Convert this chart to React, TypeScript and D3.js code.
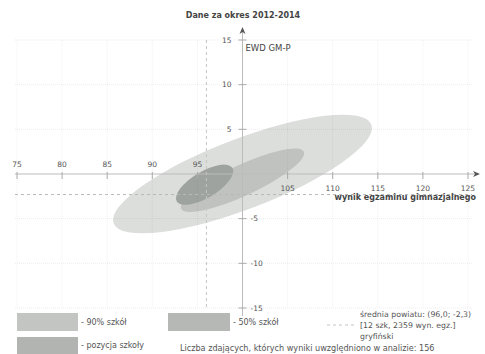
import React from 'react';
import * as d3 from 'd3';

const W = 485;
const H = 354;

const xTickValues = [75, 80, 85, 90, 95, 100, 105, 110, 115, 120, 125];
const yTickValues = [-15, -10, -5, 0, 5, 10, 15];

const ellipseLabels = ['90% szkół', '50% szkół', 'pozycja szkoły'];
const ellipseCx = [100.0, 100.0, 95.8];
const ellipseCy = [0.0, -0.7, -1.2];
const ellipseSemiMajor = [15.3, 7.5, 3.6];
const ellipseSemiMinor = [3.9, 1.7, 1.45];
const ellipseAngle = [21, 25, 31];

const meanX = 96.0;
const meanY = -2.3;

const subtitle = 'Dane za okres 2012-2014';
const xLabel = 'wynik egzaminu gimnazjalnego';
const yLabel = 'EWD GM-P';
const meanLines = ['średnia powiatu: (96,0; -2,3)', '[12 szk, 2359 wyn. egz.]', 'gryfiński'];
const countText = 'Liczba zdających, których wyniki uwzględniono w analizie: 156';

const FONT = 'DejaVu Sans, sans-serif';
const TXT = '#555';

export default function App() {
  const x = d3.scaleLinear().domain([75, 125]).range([17, 468]);
  const y = d3.scaleLinear().domain([-15, 15]).range([308, 40]);
  const ppu = x(1) - x(0);
  const x0 = x(100);
  const y0 = y(0);

  const ellipseFills = ['#dcdedc', '#bfc2bf', '#9ea39f'];
  const swatchFills = ['#c3c5c3', '#b5b8b5', '#b1b4b1'];

  return (
    <svg width={W} height={H} style={{ position: 'absolute', left: 0, top: 0, background: '#fff' }} fontFamily={FONT}>
      <rect width={W} height={H} fill="#fff" />
      <text x={243} y={18} textAnchor="middle" fontSize={8} fontWeight="bold" fill="#444">{subtitle}</text>

      {/* ellipses */}
      {ellipseLabels.map((lab, i) => {
        const cx = x(ellipseCx[i]);
        const cy = y(ellipseCy[i]);
        return (
          <ellipse key={lab} cx={cx} cy={cy} rx={ellipseSemiMajor[i] * ppu} ry={ellipseSemiMinor[i] * ppu}
            transform={`rotate(${-ellipseAngle[i]} ${cx} ${cy})`} fill={ellipseFills[i]} />
        );
      })}

      {/* grid */}
      {yTickValues.filter(v => v !== 0).map(v => (
        <line key={'gy' + v} x1={15} x2={472} y1={y(v)} y2={y(v)} stroke="#000" strokeOpacity={0.07} strokeDasharray="1,1" />
      ))}
      {xTickValues.filter(v => v !== 100).map(v => (
        <line key={'gx' + v} x1={x(v)} x2={x(v)} y1={y(15)} y2={y(-15)} stroke="#000" strokeOpacity={0.06} strokeDasharray="1,1" />
      ))}

      {/* mean lines */}
      <line x1={15} x2={472} y1={y(meanY)} y2={y(meanY)} stroke="#b8b8b8" strokeDasharray="3,3" />
      <line x1={x(meanX)} x2={x(meanX)} y1={y(15)} y2={y(-15)} stroke="#c4c4c4" strokeDasharray="3,3" />

      {/* axes */}
      <line x1={15} x2={476} y1={y0} y2={y0} stroke="#bbb" />
      <path d={`M${480},${y0} L${473},${y0 - 3} L${475},${y0} L${473},${y0 + 3} Z`} fill="#555" />
      <line x1={x0} x2={x0} y1={30} y2={316} stroke="#bbb" />
      <path d={`M${x0},${27} L${x0 - 3},${34} L${x0},${32} L${x0 + 3},${34} Z`} fill="#555" />

      {xTickValues.filter(v => v !== 100).map(v => (
        <g key={'xt' + v}>
          <line x1={x(v)} x2={x(v)} y1={y0 - 2} y2={y0 + 5} stroke="#aaa" />
          <text x={x(v)} y={v < 100 ? y0 - 7 : y0 + 17} textAnchor="middle" fontSize={7.5} fill={TXT}>{v}</text>
        </g>
      ))}
      {yTickValues.filter(v => v !== 0).map(v => (
        <g key={'yt' + v}>
          <line x1={x0 - 4} x2={x0 + 4} y1={y(v)} y2={y(v)} stroke="#aaa" />
          <text x={v > 0 ? x0 - 11 : x0 + 8} y={y(v)} dy="0.35em" textAnchor={v > 0 ? 'end' : 'start'} fontSize={7.5} fill={TXT}>{v}</text>
        </g>
      ))}

      <text x={476} y={200} textAnchor="end" fontSize={8} fontWeight="bold" fill="#444">{xLabel}</text>
      <text x={x0 + 3} y={51} fontSize={8.5} fill="#444">{yLabel}</text>

      {/* legend */}
      <rect x={17} y={313} width={61} height={18} fill={swatchFills[0]} />
      <text x={81} y={322} dy="0.35em" fontSize={8} fill={TXT}>{'- ' + ellipseLabels[0]}</text>
      <rect x={168} y={313} width={62} height={18} fill={swatchFills[1]} />
      <text x={233} y={322} dy="0.35em" fontSize={8} fill={TXT}>{'- ' + ellipseLabels[1]}</text>
      <rect x={17} y={337} width={61} height={18} fill={swatchFills[2]} />
      <text x={81} y={345} dy="0.35em" fontSize={8} fill={TXT}>{'- ' + ellipseLabels[2]}</text>

      <line x1={327} x2={356} y1={325} y2={325} stroke="#c4c4c4" strokeDasharray="3,3" />
      {meanLines.map((t, i) => (
        <text key={t} x={360} y={314 + i * 11} dy="0.35em" fontSize={7.8} fill={TXT}>{t}</text>
      ))}
      <text x={180} y={348} dy="0.35em" fontSize={8.1} fill={TXT}>{countText}</text>
    </svg>
  );
}
